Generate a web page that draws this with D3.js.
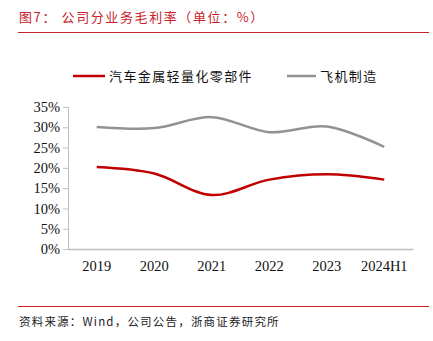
<!DOCTYPE html>
<html>
<head>
<meta charset="utf-8">
<script src="https://cdn.jsdelivr.net/npm/d3@7"></script>
<style>
  body { margin: 0; background: #fff; }
  svg { display: block; }
</style>
</head>
<body>
<div id="graph"></div>
<script>
width = 433;
height = 341;

var years = ["2019", "2020", "2021", "2022", "2023", "2024H1"];
var seriesNames = ["汽车金属轻量化零部件", "飞机制造"];
var autoParts = [20.2, 18.6, 13.3, 17.1, 18.4, 17.1];
var aircraft = [30.1, 29.8, 32.5, 28.8, 30.2, 25.2];
var yTicks = [0, 5, 10, 15, 20, 25, 30, 35];

var red = "#c00000", grey = "#929292", titleRed = "#c8232c";
var cjk = "'Noto Sans CJK SC', sans-serif";
var num = "'Liberation Serif', 'Times New Roman', serif";

const svg = d3.select("#graph").append("svg")
    .attr("width", width)
    .attr("height", height);

// header
svg.append("text")
    .attr("x", 19).attr("y", 22)
    .attr("fill", titleRed)
    .attr("font-family", cjk)
    .attr("font-size", 13)
    .attr("letter-spacing", 1.6)
    .text("图7：  公司分业务毛利率（单位：%）");
svg.append("line")
    .attr("x1", 18).attr("x2", 429)
    .attr("y1", 32.5).attr("y2", 32.5)
    .attr("stroke", titleRed).attr("stroke-width", 1);

// footer
svg.append("line")
    .attr("x1", 18).attr("x2", 429)
    .attr("y1", 306.5).attr("y2", 306.5)
    .attr("stroke", "#d42020").attr("stroke-width", 1);
svg.append("text")
    .attr("x", 19).attr("y", 326)
    .attr("fill", "#222")
    .attr("font-family", cjk)
    .attr("font-size", 11.5)
    .attr("letter-spacing", 1.2)
    .text("资料来源：Wind，公司公告，浙商证券研究所");

x = d3.scaleBand()
    .domain(years)
    .range([68, 413]);

y = d3.scaleLinear()
    .domain([0, 35])
    .range([249, 107]);

// y axis
const yAxis = svg.append("g")
    .attr("transform", "translate(68,0)")
    .call(d3.axisLeft(y).tickValues(yTicks).tickFormat(d => d + "%").tickSize(5).tickPadding(3));
yAxis.select(".domain").attr("stroke", "#bfbfbf");
yAxis.selectAll(".tick line").attr("stroke", "#bfbfbf");
yAxis.selectAll("text")
    .attr("font-family", num)
    .attr("font-size", 14.5)
    .attr("fill", "#111");

// x axis
const xAxis = svg.append("g")
    .attr("transform", "translate(0,249)")
    .call(d3.axisBottom(x).tickSize(0).tickPadding(12).tickSizeOuter(0));
xAxis.select(".domain").attr("stroke", "#bfbfbf").attr("stroke-width", 1.3);
xAxis.selectAll("text")
    .attr("font-family", num)
    .attr("font-size", 14.5)
    .attr("fill", "#111");

line = d3.line()
    .x((d, i) => x(years[i]) + x.bandwidth() / 2)
    .y(d => y(d))
    .curve(d3.curveCatmullRom.alpha(0.5));

svg.append("path")
    .datum(aircraft)
    .attr("fill", "none")
    .attr("stroke", grey)
    .attr("stroke-width", 2.5)
    .attr("d", line);

svg.append("path")
    .datum(autoParts)
    .attr("fill", "none")
    .attr("stroke", red)
    .attr("stroke-width", 2.5)
    .attr("d", line);

// legend
var legend = [
  { name: seriesNames[0], color: red, x: 73, w: 32 },
  { name: seriesNames[1], color: grey, x: 287, w: 29 }
];
const lg = svg.append("g").selectAll("g")
    .data(legend)
    .join("g")
      .attr("transform", d => `translate(${d.x},76)`);
lg.append("line")
    .attr("x1", 0).attr("x2", d => d.w)
    .attr("stroke", d => d.color)
    .attr("stroke-width", 2.5);
lg.append("text")
    .attr("x", d => d.w + 4)
    .attr("y", 5)
    .attr("font-family", cjk)
    .attr("font-size", 13)
    .attr("letter-spacing", 1.4)
    .attr("fill", "#111")
    .text(d => d.name);
</script>
</body>
</html>
